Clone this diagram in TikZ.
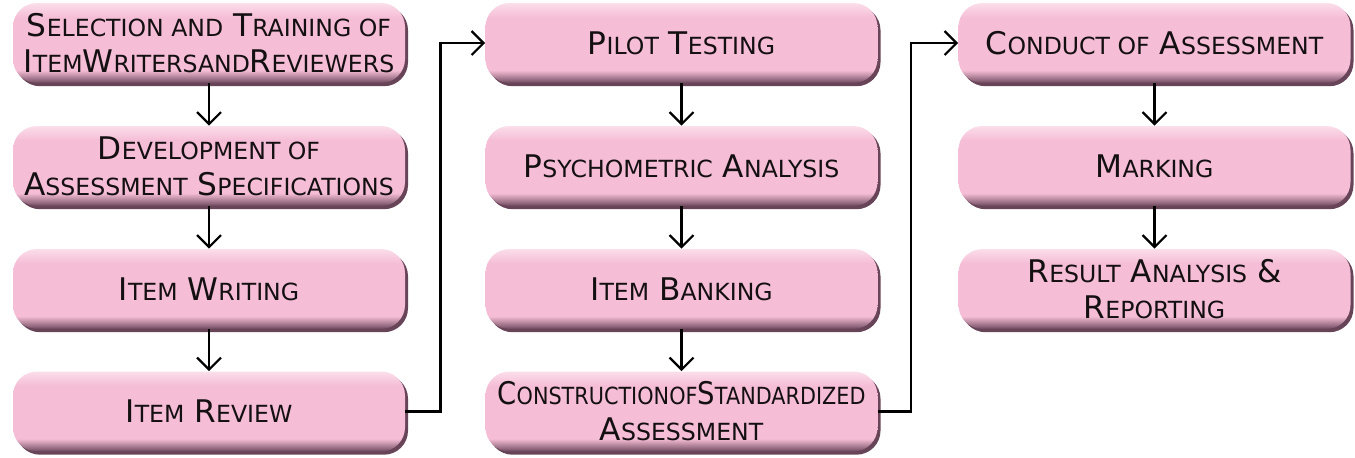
\documentclass[tikz,border=0pt]{standalone}
\usepackage{fontspec}
\setmainfont{DejaVu Sans}
\usetikzlibrary{arrows.meta,shadows}

\definecolor{boxpink}{RGB}{245,189,214}
\definecolor{boxtop}{RGB}{251,222,234}
\definecolor{boxrim}{RGB}{104,68,88}
\definecolor{ink}{RGB}{20,16,18}
\pgfdeclareverticalshading{pinkbox}{100bp}{color(0bp)=(boxrim); color(25bp)=(boxrim); color(27bp)=(boxrim!70!boxpink); color(33bp)=(boxpink); color(66bp)=(boxpink); color(75bp)=(boxtop); color(100bp)=(boxtop)}

% faked small caps
\newcommand\scl[1]{{\fontsize{11.8pt}{13pt}\selectfont #1}}

\tikzset{
  stage/.style={rounded corners=12pt, minimum width=196pt, minimum height=40pt,
    inner sep=2pt, align=center, text=ink, shade, shading=pinkbox,
    general shadow={fill=boxrim, shadow xshift=1.5pt, shadow yshift=-1.6pt},
    font=\fontsize{15.6pt}{18pt}\selectfont},
  flow/.style={-{Straight Barb[length=6pt,width=12pt]}, line width=1.1pt}
}

\begin{document}
\begin{tikzpicture}[x=0.5pt,y=-0.5pt]
  \useasboundingbox (0,0) rectangle (1355,457);

  \node[stage] (select) at (209,43) {S\scl{ELECTION AND} T\scl{RAINING OF}\\I\scl{TEM}W\scl{RITERS}\scl{AND}R\scl{EVIEWERS}};
  \node[stage] (develop) at (209,166) {D\scl{EVELOPMENT OF}\\A\scl{SSESSMENT} S\scl{PECIFICATIONS}};
  \node[stage] (writing) at (209,289) {I\scl{TEM} W\scl{RITING}};
  \node[stage] (review) at (209,411.5) {I\scl{TEM} R\scl{EVIEW}};

  \node[stage] (pilot) at (681.5,43) {P\scl{ILOT} T\scl{ESTING}};
  \node[stage] (psycho) at (681.5,166) {P\scl{SYCHOMETRIC} A\scl{NALYSIS}};
  \node[stage] (banking) at (681.5,289) {I\scl{TEM} B\scl{ANKING}};
  \node[stage] (construct) at (681.5,411.5) {\scalebox{0.88}[1]{C\scl{ONSTRUCTIONOF}S\scl{TANDARDIZED}}\\A\scl{SSESSMENT}};

  \node[stage] (conduct) at (1154.5,43) {C\scl{ONDUCT OF} A\scl{SSESSMENT}};
  \node[stage] (marking) at (1154.5,166) {M\scl{ARKING}};
  \node[stage] (result) at (1154.5,289) {R\scl{ESULT} A\scl{NALYSIS} \&\\R\scl{EPORTING}};

  \draw[flow] (select) -- (develop);
  \draw[flow] (develop) -- (writing);
  \draw[flow] (writing) -- (review);
  \draw[flow] (review.east) -- ++(35,0) |- (pilot.west);

  \draw[flow] (pilot) -- (psycho);
  \draw[flow] (psycho) -- (banking);
  \draw[flow] (banking) -- (construct);
  \draw[flow] (construct.east) -- ++(33,0) |- (conduct.west);

  \draw[flow] (conduct) -- (marking);
  \draw[flow] (marking) -- (result);
\end{tikzpicture}
\end{document}
